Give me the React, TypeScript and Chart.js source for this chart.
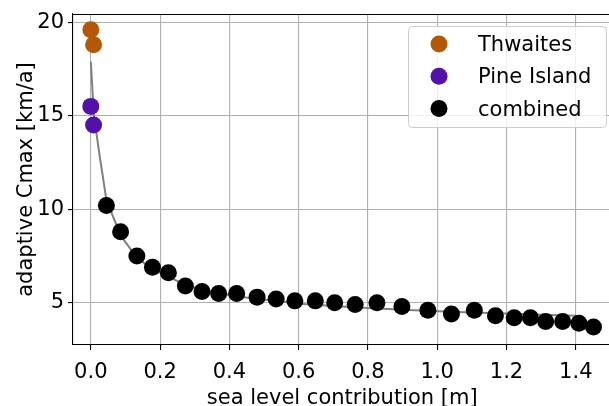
import { useEffect, useRef } from "react";
import { Chart, registerables } from "chart.js";

Chart.register(...registerables);

// ---- data ----
const thwaitesX = [0.0, 0.008];
const thwaitesY = [19.6, 18.8];

const pineX = [0.0, 0.008];
const pineY = [15.5, 14.5];

const combinedX = [
  0.045, 0.086, 0.133, 0.178, 0.224, 0.273, 0.321, 0.369, 0.421, 0.48, 0.535,
  0.589, 0.648, 0.704, 0.763, 0.826, 0.898, 0.973, 1.041, 1.107, 1.168, 1.222,
  1.269, 1.313, 1.362, 1.409, 1.451,
];
const combinedY = [
  10.2, 8.8, 7.5, 6.9, 6.6, 5.9, 5.6, 5.5, 5.5, 5.3, 5.2, 5.1, 5.1, 5.0, 4.9,
  5.0, 4.8, 4.6, 4.4, 4.6, 4.3, 4.2, 4.2, 4.0, 4.0, 3.9, 3.7,
];

const fitX = [
  0, 0.009, 0.026, 0.045, 0.086, 0.133, 0.178, 0.224, 0.273, 0.321, 0.37, 0.42,
  0.48, 0.535, 0.6, 0.7, 0.8, 0.9, 1.0, 1.1, 1.2, 1.3, 1.4,
];
const fitY = [
  17.9, 15.0, 12.8, 10.5, 8.6, 7.4, 6.8, 6.4, 5.95, 5.7, 5.5, 5.35, 5.2, 5.1,
  4.95, 4.82, 4.72, 4.63, 4.55, 4.48, 4.42, 4.36, 4.31,
];

const xTicks = [0, 0.2, 0.4, 0.6, 0.8, 1.0, 1.2, 1.4];
const yTicks = [5, 10, 15, 20];

const xTitle = "sea level contribution [m]";
const yTitle = "adaptive Cmax [km/a]";

const FONT = "'DejaVu Sans', sans-serif";
const FS = 21;

const toPts = (xs: number[], ys: number[]) => xs.map((x, i) => ({ x, y: ys[i] }));

const frameTop = {
  id: "frameTop",
  beforeDatasetsDraw(chart: any) {
    const { ctx, chartArea } = chart;
    ctx.save();
    ctx.strokeStyle = "#000000";
    ctx.lineWidth = 1.1;
    ctx.beginPath();
    ctx.moveTo(chartArea.left, chartArea.top + 0.5);
    ctx.lineTo(chartArea.right, chartArea.top + 0.5);
    ctx.stroke();
    ctx.restore();
  },
};

const boxLegend = {
  id: "boxLegend",
  afterDraw(chart: any, _args: any, opts: any) {
    const { ctx } = chart;
    const items = chart.data.datasets.filter((d: any) => !d.showLine);
    ctx.save();
    ctx.beginPath();
    ctx.roundRect(opts.x + 0.5, opts.y + 0.5, opts.w, opts.h, opts.r);
    ctx.fillStyle = "rgba(255,255,255,0.8)";
    ctx.fill();
    ctx.strokeStyle = "#cccccc";
    ctx.lineWidth = 1;
    ctx.stroke();
    ctx.font = `${FS}px ${FONT}`;
    ctx.textBaseline = "alphabetic";
    ctx.textAlign = "left";
    items.forEach((d: any, i: number) => {
      const cy = opts.y + opts.firstRow + i * opts.rowH;
      ctx.beginPath();
      ctx.arc(opts.markerX, cy, opts.markerR, 0, Math.PI * 2);
      ctx.fillStyle = d.backgroundColor;
      ctx.fill();
      ctx.fillStyle = "#000000";
      ctx.fillText(d.label, opts.textX, cy + 7);
    });
    ctx.restore();
  },
};

export default function App() {
  const ref = useRef<HTMLCanvasElement | null>(null);

  useEffect(() => {
    if (!ref.current) return;
    const chart = new Chart(ref.current, {
      type: "scatter",
      data: {
        datasets: [
          {
            label: "Thwaites",
            data: toPts(thwaitesX, thwaitesY),
            backgroundColor: "#b35806",
            borderColor: "#b35806",
            pointRadius: 8.5,
            borderWidth: 0,
            order: 1,
          },
          {
            label: "Pine Island",
            data: toPts(pineX, pineY),
            backgroundColor: "#5411a8",
            borderColor: "#5411a8",
            pointRadius: 8.5,
            borderWidth: 0,
            order: 1,
          },
          {
            label: "combined",
            data: toPts(combinedX, combinedY),
            backgroundColor: "#000000",
            borderColor: "#000000",
            pointRadius: 8.5,
            borderWidth: 0,
            order: 1,
          },
          {
            label: "fit",
            data: toPts(fitX, fitY),
            showLine: true,
            borderColor: "#808080",
            backgroundColor: "#808080",
            borderWidth: 2,
            pointRadius: 0,
            order: 5,
          },
        ],
      },
      options: {
        animation: false,
        responsive: false,
        layout: { padding: { top: 14, right: 3, left: 0, bottom: 0 } },
        plugins: {
          legend: { display: false },
          tooltip: { enabled: false },
          boxLegend: {
            x: 408,
            y: 26,
            w: 198,
            h: 101,
            r: 4,
            firstRow: 18,
            rowH: 32.3,
            markerX: 439,
            markerR: 8.5,
            textX: 478,
          },
        } as any,
        scales: {
          x: {
            type: "linear",
            min: -0.0514,
            max: 1.503,
            afterBuildTicks: (s: any) => {
              s.ticks = xTicks.map((v) => ({ value: v }));
            },
            afterFit: (s: any) => {
              s.height = 66;
              s.paddingLeft = 0;
              s.paddingRight = 0;
            },
            ticks: {
              font: { family: FONT, size: FS },
              color: "#000000",
              padding: 10,
              maxRotation: 0,
              callback: (v: any) => Number(v).toFixed(1),
            },
            grid: {
              color: "#b0b0b0",
              lineWidth: 1.1,
              tickColor: "#000000",
              tickLength: 5,
            },
            border: { color: "#000000", width: 1.1 },
            title: {
              display: true,
              text: xTitle,
              font: { family: FONT, size: FS },
              color: "#000000",
              padding: { top: 0, bottom: 0 },
            },
          },
          y: {
            type: "linear",
            min: 2.74,
            max: 20.44,
            afterBuildTicks: (s: any) => {
              s.ticks = yTicks.map((v) => ({ value: v }));
            },
            afterFit: (s: any) => {
              s.width = 73;
              s.paddingTop = 0;
              s.paddingBottom = 0;
            },
            ticks: {
              font: { family: FONT, size: FS },
              color: "#000000",
              padding: 4,
              callback: (v: any) => String(v),
            },
            grid: {
              color: "#b0b0b0",
              lineWidth: 1.1,
              tickColor: "#000000",
              tickLength: 5,
            },
            border: { color: "#000000", width: 1.1 },
            title: {
              display: true,
              text: yTitle,
              font: { family: FONT, size: FS },
              color: "#000000",
              padding: { top: 14, bottom: 0 },
            },
          },
        },
      },
      plugins: [frameTop, boxLegend],
    });
    return () => chart.destroy();
  }, []);

  return (
    <div
      style={{
        position: "fixed",
        left: 0,
        top: 0,
        width: 609,
        height: 406,
        overflow: "hidden",
        background: "#ffffff",
      }}
    >
      <canvas ref={ref} width={620} height={411} style={{ display: "block" }} />
    </div>
  );
}
